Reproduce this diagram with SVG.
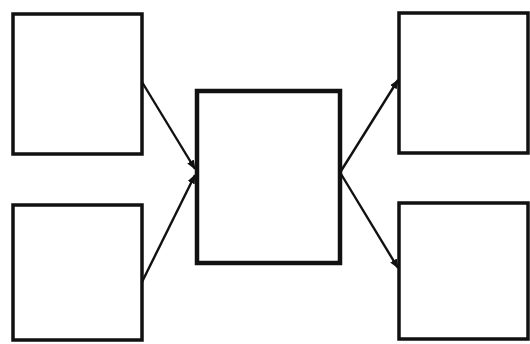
<svg xmlns="http://www.w3.org/2000/svg" width="530" height="344" viewBox="0 0 530 344">
<style>
.box{fill:#fff;stroke:#111;stroke-width:3.5}
.thick{stroke-width:4.5}
.conn{stroke:#111;stroke-width:2.4;fill:none;marker-end:url(#ah)}
</style>
<defs>
<marker id="ah" viewBox="0 0 10 10" refX="9" refY="5" markerWidth="4" markerHeight="4" orient="auto" markerUnits="strokeWidth">
<path d="M0,1 L10,5 L0,9 z" fill="#111"/>
</marker>
</defs>
<rect width="530" height="344" fill="#fff"/>
<g id="connectors">
<line class="conn" x1="142" y1="82" x2="195" y2="169"/>
<line class="conn" x1="142" y1="282" x2="195" y2="175"/>
<line class="conn" x1="341" y1="171" x2="398" y2="80"/>
<line class="conn" x1="341" y1="174" x2="398" y2="268"/>
</g>
<g id="node-top-left"><rect class="box" x="13" y="14" width="129" height="140"/></g>
<g id="node-bottom-left"><rect class="box" x="13" y="205" width="129" height="135"/></g>
<g id="node-center"><rect class="box thick" x="197" y="91" width="143" height="172"/></g>
<g id="node-top-right"><rect class="box" x="399" y="13" width="129" height="140"/></g>
<g id="node-bottom-right"><rect class="box" x="399" y="203" width="129" height="136"/></g>
</svg>
